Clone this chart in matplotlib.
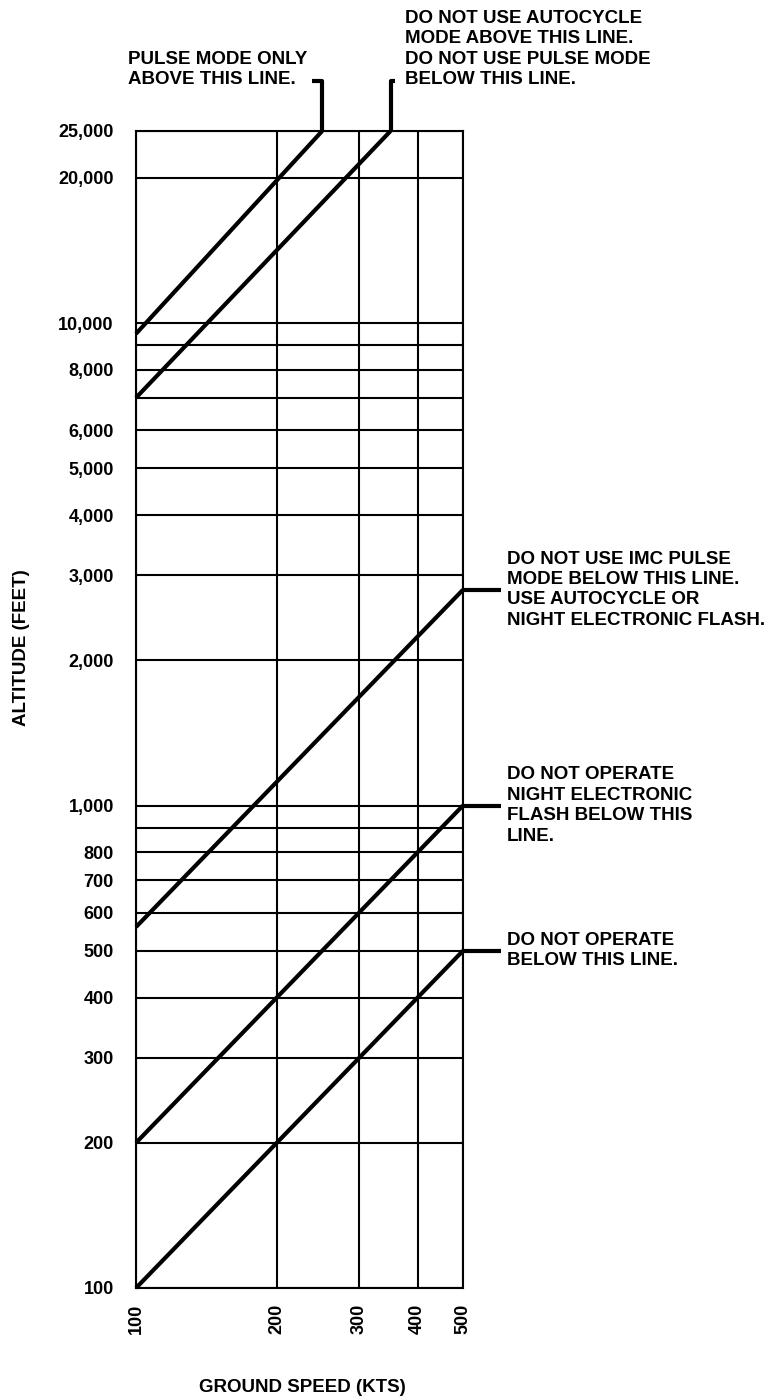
import matplotlib
matplotlib.use("Agg")
import matplotlib.pyplot as plt
import matplotlib.transforms as mtransforms
from matplotlib.ticker import NullLocator

plt.rcParams['font.family'] = ['Liberation Sans', 'DejaVu Sans']
plt.rcParams['font.weight'] = 'bold'

# limit lines: ground speed (kts) -> altitude (feet)
speed_low = [100, 500]
alt_no_operate = [100, 500]
alt_no_night_flash = [200, 1000]
alt_no_imc_pulse = [560, 2800]
speed_autocycle = [100, 350]
alt_autocycle = [7000, 25000]
speed_pulse_only = [100, 250]
alt_pulse_only = [9500, 25000]

speed_ticks = [100, 200, 300, 400, 500]
alt_grid = [100, 200, 300, 400, 500, 600, 700, 800, 900, 1000,
            2000, 3000, 4000, 5000, 6000, 7000, 8000, 9000, 10000,
            20000, 25000]
alt_labels = ['100', '200', '300', '400', '500', '600', '700', '800', '', '1,000',
              '2,000', '3,000', '4,000', '5,000', '6,000', '', '8,000', '', '10,000',
              '20,000', '25,000']

W, H = 774, 1397
fig = plt.figure(figsize=(W / 100, H / 100), dpi=100)
ax = fig.add_axes([136 / W, 1 - 1288 / H, 327 / W, 1157 / H])

ax.set_xscale('log')
ax.set_yscale('log')
ax.set_xlim(100, 500)
ax.set_ylim(100, 25000)
ax.set_xticks(speed_ticks, [str(s) for s in speed_ticks])
ax.set_yticks(alt_grid, alt_labels)
ax.xaxis.set_minor_locator(NullLocator())
ax.yaxis.set_minor_locator(NullLocator())
ax.tick_params(axis='both', length=0, labelsize=13)
ax.tick_params(axis='y', pad=16)
ax.tick_params(axis='x', pad=11, labelrotation=90)
ax.grid(True, color='black', lw=1.5)
for sp in ax.spines.values():
    sp.set_linewidth(1.5)

lw = 3.0
kw = dict(color='black', lw=lw, solid_capstyle='butt', clip_on=False, zorder=3)
ax.plot(speed_low, alt_no_operate, **kw)
ax.plot(speed_low, alt_no_night_flash, **kw)
ax.plot(speed_low, alt_no_imc_pulse, **kw)
ax.plot(speed_autocycle, alt_autocycle, **kw)
ax.plot(speed_pulse_only, alt_pulse_only, **kw)

txt = dict(fontsize=13.5, fontweight='bold', linespacing=1.26, va='center', ha='left')

# leaders on the top
top = mtransforms.blended_transform_factory(ax.transData, ax.transAxes)
ax.plot([250, 250, 238], [1.0, 1.043, 1.043], transform=top, **kw)
ax.plot([350, 350, 358], [1.0, 1.043, 1.043], transform=top, **kw)
ax.text(96, 1.053, 'PULSE MODE ONLY\nABOVE THIS LINE.', transform=top, **txt)
ax.text(375, 1.071, 'DO NOT USE AUTOCYCLE\nMODE ABOVE THIS LINE.\n'
        'DO NOT USE PULSE MODE\nBELOW THIS LINE.', transform=top, **txt)

# leaders on the right
right = mtransforms.blended_transform_factory(ax.transAxes, ax.transData)
notes = [
    (alt_no_imc_pulse[-1], 'DO NOT USE IMC PULSE\nMODE BELOW THIS LINE.\n'
                           'USE AUTOCYCLE OR\nNIGHT ELECTRONIC FLASH.'),
    (alt_no_night_flash[-1], 'DO NOT OPERATE\nNIGHT ELECTRONIC\nFLASH BELOW THIS\nLINE.'),
    (alt_no_operate[-1], 'DO NOT OPERATE\nBELOW THIS LINE.'),
]
for alt, label in notes:
    ax.plot([1.0, 1.115], [alt, alt], transform=right, **kw)
    ax.text(1.135, alt, label, transform=right, **txt)

fig.text(22 / W, 1 - 648 / H, 'ALTITUDE (FEET)', rotation=90, ha='center', va='center',
         fontsize=13.5, fontweight='bold')
fig.text(302 / W, 1 - 1387 / H, 'GROUND SPEED (KTS)', ha='center', va='center',
         fontsize=13.5, fontweight='bold')

fig.savefig('out.png', dpi=100, facecolor='white')
